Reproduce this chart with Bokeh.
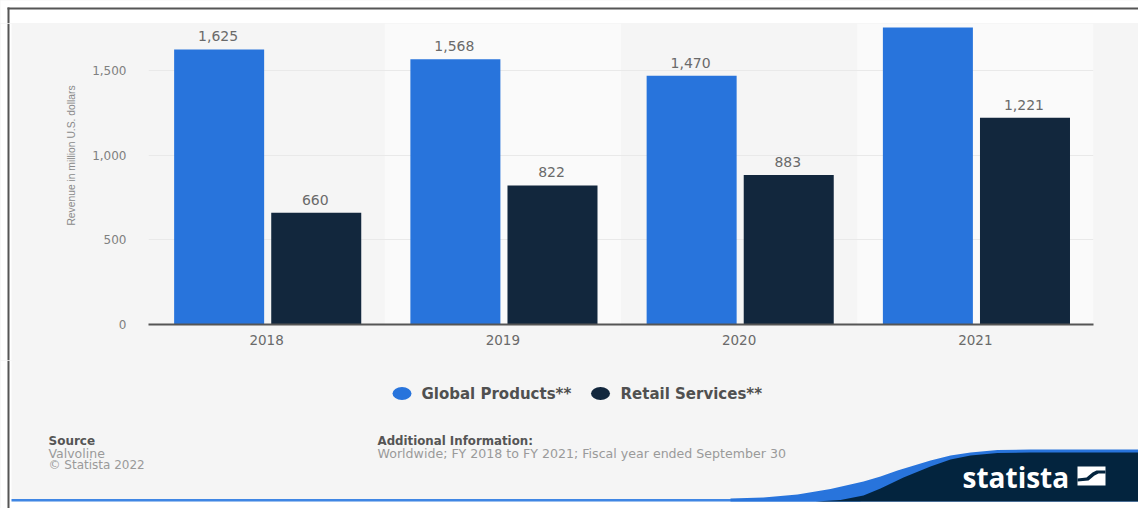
import math

from bokeh.embed import file_html
from bokeh.layouts import column, row
from bokeh.resources import INLINE
from bokeh.plotting import figure
from bokeh.models import (ColumnDataSource, FactorRange, FixedTicker, NumeralTickFormatter, Range1d)
from bokeh.transform import dodge
from bokeh.core.properties import value

years = ["2018", "2019", "2020", "2021"]
global_products = [1625, 1568, 1470, 1755]
retail_services = [660, 822, 883, 1221]
global_labels = ["1,625", "1,568", "1,470", ""]
retail_labels = ["660", "822", "883", "1,221"]
y_ticks = [0, 500, 1000, 1500]
series_names = ["Global Products**", "Retail Services**"]

BLUE = "#2874dc"
NAVY = "#12273d"
BRAND = "#03243e"
PANEL = "#f5f5f5"
WHITE = "#ffffff"
FRAME = "#555555"
TEXT = "#6a6a6a"
MUTED = "#9a9a9a"
FONT = "DejaVu Sans"

WIDTH, HEIGHT = 1138, 508
CHART_TOP, CHART_BOTTOM, STRIP, GUTTER = 23, 360, 11, 80


def pixel_figure(left, right, top, bottom, color=PANEL):
    """A borderless figure whose coordinates are page pixels, y growing downward."""
    fig = figure(width=right - left, height=bottom - top, output_backend="svg",
                 toolbar_location=None, x_axis_type=None, y_axis_type=None,
                 x_range=Range1d(left, right), y_range=Range1d(bottom, top),
                 min_border=0, background_fill_color=color, border_fill_color=color,
                 outline_line_color=None)
    fig.grid.visible = False
    return fig


def rect(fig, left, right, top, bottom, color):
    fig.quad(left=left, right=right, top=top, bottom=bottom, fill_color=color, line_color=None)


def note(fig, x, y, text, size, color, style="normal", font=FONT):
    fig.text(x=[x], y=[y], text=[text], text_font=value(font), text_font_size=size,
             text_color=color, text_font_style=style, text_baseline="middle", text_align="left")


# --- white strip and frame lines above the panel
head = pixel_figure(0, WIDTH, 0, CHART_TOP, WHITE)
rect(head, 7, WIDTH, 7, 9, FRAME)
rect(head, 7, 9, 7, CHART_TOP, FRAME)

# --- left gutter: white margin, frame line and the value-axis title
side = pixel_figure(0, GUTTER, CHART_TOP, CHART_BOTTOM)
rect(side, 0, STRIP, CHART_TOP, CHART_BOTTOM, WHITE)
rect(side, 7, 9, CHART_TOP, CHART_BOTTOM, FRAME)
side.text(x=[71], y=[155], text=["Revenue in million U.S. dollars"], angle=math.pi / 2,
          text_font=value("Liberation Sans"), text_font_size="10.3px", text_color="#8a8a8a",
          text_align="center", text_baseline="middle")

# --- the bar chart
src = ColumnDataSource(dict(year=years, g=global_products, r=retail_services,
                            gl=global_labels, rl=retail_labels))

p = figure(width=WIDTH - GUTTER, height=CHART_BOTTOM - CHART_TOP,
           output_backend="svg", toolbar_location=None,
           x_range=FactorRange(factors=years, range_padding=0, factor_padding=0),
           y_range=Range1d(0, 1778.5),
           min_border_left=68, min_border_right=45, min_border_top=0, min_border_bottom=36,
           background_fill_color=PANEL, border_fill_color=PANEL, outline_line_color=None)

# alternating year bands sit below the grid
p.vbar(x=years[1::2], top=1778.5, width=1, fill_color="#fafafa", line_color=None, level="image")

off_g, off_r, bar_w = -0.201, 0.210, 0.381
p.vbar(x=dodge("year", off_g, range=p.x_range), top="g", width=bar_w, source=src,
       fill_color=BLUE, line_color=None)
p.vbar(x=dodge("year", off_r, range=p.x_range), top="r", width=bar_w, source=src,
       fill_color=NAVY, line_color=None)
for off, col, lab in ((off_g, "g", "gl"), (off_r, "r", "rl")):
    p.text(x=dodge("year", off, range=p.x_range), y=col, text=lab, source=src,
           x_offset=-1, y_offset=-8,
           text_align="center", text_baseline="bottom", text_color=TEXT,
           text_font=value(FONT), text_font_size="14px")

p.ygrid.grid_line_color = "#e9e9e9"
p.ygrid.level = "underlay"
p.xgrid.visible = False

p.yaxis.ticker = FixedTicker(ticks=y_ticks)
p.yaxis.formatter = NumeralTickFormatter(format="0,0")
p.yaxis.axis_line_color = None
p.yaxis.major_tick_line_color = None
p.yaxis.minor_tick_line_color = None
p.yaxis.major_label_standoff = 16
p.yaxis.major_label_text_font = FONT
p.yaxis.major_label_text_font_size = "12px"
p.yaxis.major_label_text_color = "#808080"

p.xaxis.axis_line_color = FRAME
p.xaxis.axis_line_width = 2
p.xaxis.major_tick_line_color = None
p.xaxis.minor_tick_line_color = None
p.xaxis.major_label_standoff = 4
p.xaxis.major_label_text_font = FONT
p.xaxis.major_label_text_font_size = "13.5px"
p.xaxis.major_label_text_color = TEXT

# --- legend, source notes and brand strip
foot = pixel_figure(0, WIDTH, CHART_BOTTOM, HEIGHT)
rect(foot, 0, STRIP, CHART_BOTTOM, HEIGHT, WHITE)
rect(foot, 0, WIDTH, 501, HEIGHT, WHITE)
rect(foot, 7, 9, CHART_BOTTOM, HEIGHT, FRAME)

foot.ellipse(x=[401.5, 600], y=[393, 393], width=19, height=13,
             fill_color=[BLUE, NAVY], line_color=None)
note(foot, 421, 393, series_names[0], "15px", "#505050", "bold")
note(foot, 620, 393, series_names[1], "15px", "#505050", "bold")

note(foot, 48, 440, "Source", "12px", FRAME, "bold")
note(foot, 48, 452.5, "Valvoline", "12.5px", MUTED)
note(foot, 48, 464.5, "© Statista 2022", "12px", MUTED)
note(foot, 377, 440, "Additional Information:", "11.8px", FRAME, "bold")
note(foot, 377, 452.5, "Worldwide; FY 2018 to FY 2021; Fiscal year ended September 30",
     "12.6px", MUTED)

# wave: blue crest with the dark brand area under it
rect(foot, STRIP, 860, 498.5, 501, "#3f86e4")
crest_x = [730, 763, 797, 830, 863, 880, 897, 930, 950, 970, 997, 1030, 1138]
crest_y = [498, 497, 494, 488.5, 481, 476, 470, 460, 455, 452, 449.5, 449, 449]
under_x = [1138, 1030, 997, 970, 950, 930, 903, 880, 863, 840, 815]
under_y = [452, 452, 452.5, 455, 459, 466, 477, 488, 495, 499.5, 501]
foot.patch(crest_x + [1138, 730], crest_y + [501, 501], fill_color=BLUE, line_color=None)
foot.patch(under_x + [1138], under_y + [501], fill_color=BRAND, line_color=None)

note(foot, 962, 476, "statista", "28px", WHITE, "bold", "Open Sans")
foot.patch([1077, 1105, 1105, 1077], [466, 466, 485, 485], fill_color=WHITE, line_color=None)
foot.patch([1077, 1086, 1092, 1096, 1105, 1105, 1098, 1094, 1088, 1077],
           [478, 477, 472, 470, 470, 473, 473, 475, 480, 481],
           fill_color=BRAND, line_color=None)

# the gutter sits in its own column so its frame is not tied to the chart's;
# the panel colour behind the layout closes the hairlines between figures
backing = {"background-color": PANEL}
page = column(head, row(column(side, spacing=0, styles=backing), p, spacing=0, styles=backing),
              foot, spacing=0, styles=backing)
open("out.html", "w").write(file_html(page, INLINE))
